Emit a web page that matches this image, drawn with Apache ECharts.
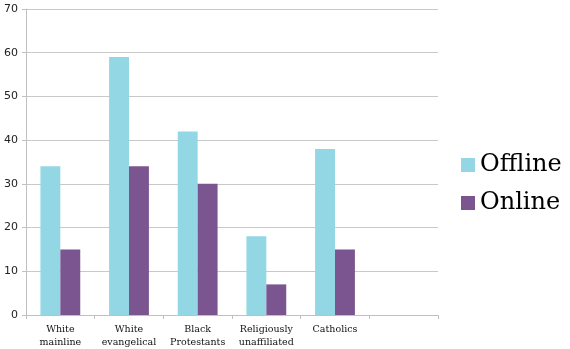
<!DOCTYPE html>
<html><head><meta charset="utf-8">
<script src="https://cdn.jsdelivr.net/npm/echarts@6/dist/echarts.min.js"></script>
<style>html,body{margin:0;padding:0;background:#fff}#c{width:570px;height:349px}</style>
</head><body><div id="c"></div>
<script>
const categories = ["White\nmainline", "White\nevangelical", "Black\nProtestants", "Religiously\nunaffiliated", "Catholics", ""];
const offline = [34, 59, 42, 18, 38, null];
const online = [15, 34, 30, 7, 15, null];
const yTicks = [0, 10, 20, 30, 40, 50, 60, 70];

const chart = echarts.init(document.getElementById('c'));
chart.setOption({
  animation: false,
  grid: {left: 26, right: 132, top: 9, bottom: 34, containLabel: false},
  legend: {
    orient: 'vertical', left: 456, top: 148, itemWidth: 14, itemHeight: 14, itemGap: 14,
    icon: 'rect',
    textStyle: {fontFamily: 'DejaVu Serif', fontSize: 24, color: '#000'},
    data: ['Offline', 'Online']
  },
  xAxis: {
    type: 'category', data: categories,
    axisLine: {lineStyle: {color: '#c0c0c0', width: 1}},
    axisTick: {show: true, length: 4, lineStyle: {color: '#c0c0c0'}},
    axisLabel: {fontFamily: 'DejaVu Serif', fontSize: 9.5, color: '#111', lineHeight: 13, margin: 8, interval: 0}
  },
  yAxis: {
    type: 'value', min: yTicks[0], max: yTicks[yTicks.length - 1], interval: 10,
    axisLine: {show: true, lineStyle: {color: '#c0c0c0', width: 1}},
    axisTick: {show: true, length: 4, lineStyle: {color: '#c0c0c0'}},
    axisLabel: {fontFamily: 'DejaVu Sans', fontSize: 11, color: '#222', margin: 8},
    splitLine: {lineStyle: {color: '#c8c8c8', width: 1}}
  },
  series: [
    {name: 'Offline', type: 'bar', data: offline, barGap: '0%', barCategoryGap: '42%', itemStyle: {color: '#93D7E4'}},
    {name: 'Online', type: 'bar', data: online, itemStyle: {color: '#7B558F'}}
  ]
});
</script></body></html>
